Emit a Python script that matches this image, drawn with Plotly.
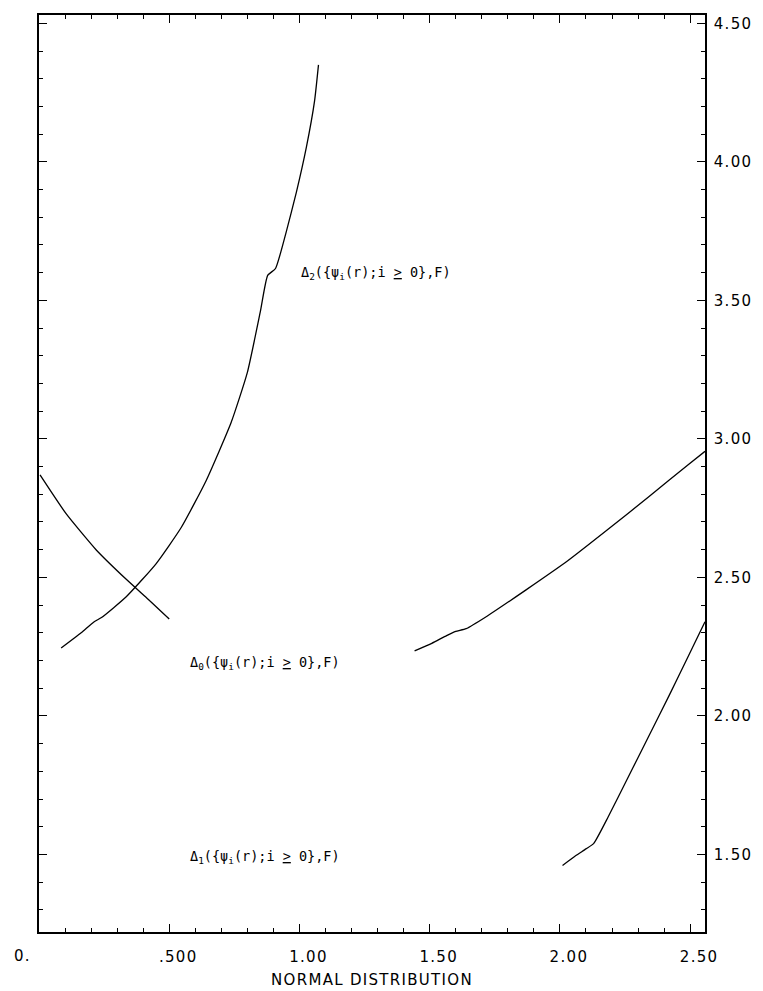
import plotly.graph_objects as go

# Data
d2_x = [0.085, 0.162, 0.212, 0.240, 0.335, 0.450, 0.546, 0.642, 0.738, 0.800, 0.850, 0.878, 0.908, 0.950, 0.988, 1.027, 1.058, 1.073]
d2_y = [2.245, 2.300, 2.340, 2.355, 2.430, 2.550, 2.680, 2.850, 3.060, 3.240, 3.460, 3.590, 3.615, 3.750, 3.890, 4.055, 4.220, 4.350]

d0_x = [0.004, 0.104, 0.219, 0.335, 0.420, 0.500]
d0_y = [2.870, 2.730, 2.600, 2.493, 2.420, 2.350]

r0_x = [1.442, 1.508, 1.565, 1.600, 1.640, 1.720, 1.870, 2.030, 2.180, 2.340, 2.490, 2.557]
r0_y = [2.235, 2.262, 2.290, 2.305, 2.315, 2.360, 2.455, 2.560, 2.670, 2.790, 2.905, 2.955]

r1_x = [2.010, 2.060, 2.100, 2.130, 2.185, 2.260, 2.340, 2.420, 2.490, 2.557]
r1_y = [1.460, 1.495, 1.520, 1.540, 1.635, 1.775, 1.925, 2.075, 2.210, 2.340]

x_ticks = [0.5, 1.0, 1.5, 2.0, 2.5]
x_labels = [".500", "1.00", "1.50", "2.00", "2.50"]
y_ticks = [1.5, 2.0, 2.5, 3.0, 3.5, 4.0, 4.5]
y_labels = ["1.50", "2.00", "2.50", "3.00", "3.50", "4.00", "4.50"]


def spaced(s):
    return '<span style="letter-spacing:1.3px">' + s + '</span>'


line = dict(color="black", width=1.3)
fig = go.Figure()
for xs, ys in [(d2_x, d2_y), (d0_x, d0_y), (r0_x, r0_y), (r1_x, r1_y)]:
    fig.add_trace(go.Scatter(x=xs, y=ys, mode="lines", line=line, showlegend=False,
                             line_shape="spline", line_smoothing=0.5))

lab_font = dict(family="DejaVu Sans Mono", size=13.5, color="black")
fig.add_annotation(x=0.998, y=3.60, xanchor="left", yanchor="middle", showarrow=False,
                   text="Δ<sub>2</sub>({ψ<sub>i</sub>(r);i <u>></u> 0},F)", font=lab_font)
fig.add_annotation(x=0.572, y=2.19, xanchor="left", yanchor="middle", showarrow=False,
                   text="Δ<sub>0</sub>({ψ<sub>i</sub>(r);i <u>></u> 0},F)", font=lab_font)
fig.add_annotation(x=0.572, y=1.49, xanchor="left", yanchor="middle", showarrow=False,
                   text="Δ<sub>1</sub>({ψ<sub>i</sub>(r);i <u>></u> 0},F)", font=lab_font)

tick_font = dict(family="DejaVu Sans", size=15, color="black")
fig.add_annotation(x=0.0, y=0, xref="x", yref="paper", xshift=-17, yanchor="top", yshift=-13,
                   showarrow=False, text=spaced("0."), font=tick_font)

fig.update_layout(
    width=763, height=991,
    margin=dict(l=31, r=66, t=5, b=67),
    paper_bgcolor="white", plot_bgcolor="white",
    xaxis=dict(range=[0, 2.557], tickvals=x_ticks, ticktext=[spaced(s) for s in x_labels],
               ticks="inside", ticklen=8, tickwidth=1, tickcolor="black",
               showline=True, linecolor="black", linewidth=1.5, mirror="ticks",
               showgrid=False, zeroline=False, tickfont=tick_font, ticklabelshift=9,
               ticklabelstandoff=10,
               minor=dict(dtick=0.1, ticks="inside", ticklen=4, tickcolor="black", showgrid=False),
               title=dict(text=spaced("NORMAL DISTRIBUTION"),
                          font=dict(family="DejaVu Sans", size=15, color="black"),
                          standoff=10)),
    yaxis=dict(range=[1.22, 4.53], tickvals=y_ticks, ticktext=[spaced(s) for s in y_labels],
               side="right",
               ticks="inside", ticklen=8, tickwidth=1, tickcolor="black",
               showline=True, linecolor="black", linewidth=1.5, mirror="ticks",
               showgrid=False, zeroline=False, tickfont=tick_font, ticklabelstandoff=4,
               minor=dict(dtick=0.1, ticks="inside", ticklen=4, tickcolor="black", showgrid=False)),
)
fig.write_html("out.html")
